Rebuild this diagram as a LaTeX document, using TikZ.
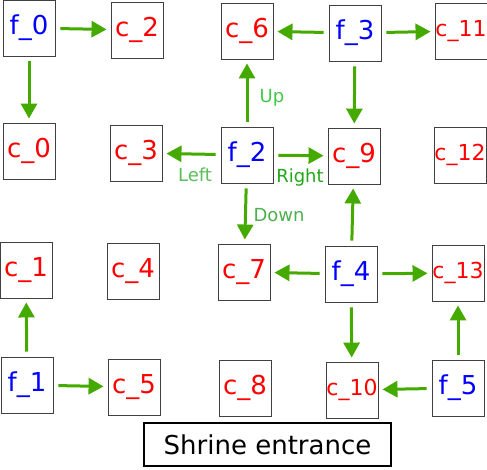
\documentclass[tikz,border=0pt]{standalone}
\usepackage{fontspec}
\setmainfont{DejaVu Sans}
\usetikzlibrary{arrows.meta}
\definecolor{movegreen}{HTML}{44AA00}
\definecolor{leftgreen}{HTML}{5ABF5A}
\definecolor{upgreen}{HTML}{44C844}
\definecolor{rightgreen}{HTML}{22A818}
\definecolor{downgreen}{HTML}{4DB04D}

\begin{document}
\begin{tikzpicture}[x = 1pt, y = -1pt]
    \useasboundingbox (0, 0) rectangle (487, 469);
    \tikzset{cell/.style={draw=black!75, line width=0.9pt, minimum width=52pt, minimum height=56pt,
                          inner sep=0pt, text=red, font=\fontsize{26}{30}\selectfont},
             cellwide/.style={cell, font=\fontsize{22}{26}\selectfont},
             field/.style={cell, text=blue},
             move/.style={movegreen, line width=3pt, -{Triangle[length=15pt, width=16pt]},
                          shorten <=5pt, shorten >=4pt},
             movelabel/.style={anchor=base, font=\fontsize{18}{22}\selectfont}}
    % ROW 1
    \node[field] (f0) at (29, 28) {f\_0};
    \node[cell] (c2) at (137, 30) {c\_2};
    \node[cell] (c6) at (247, 31) {c\_6};
    \node[field] (f3) at (355, 33) {f\_3};
    \node[cellwide] (c11) at (461, 31) {c\_11};
    % ROW 2
    \node[cell] (c0) at (29, 151) {c\_0};
    \node[cell] (c3) at (136, 153) {c\_3};
    \node[field] (f2) at (247, 155) {f\_2};
    \node[cell] (c9) at (354, 156) {c\_9};
    \node[cellwide] (c12) at (460, 155) {c\_12};
    % ROW 3
    \node[cell] (c1) at (26, 270) {c\_1};
    \node[cell] (c4) at (133, 271) {c\_4};
    \node[cell] (c7) at (244, 272) {c\_7};
    \node[field] (f4) at (351, 274) {f\_4};
    \node[cellwide] (c13) at (458, 273) {c\_13};
    % ROW 4
    \node[field] (f1) at (27, 385) {f\_1};
    \node[cell] (c5) at (134, 387) {c\_5};
    \node[cell] (c8) at (245, 388) {c\_8};
    \node[cellwide] (c10) at (352, 390) {c\_10};
    \node[field] (f5) at (458, 388) {f\_5};
    % ENTRANCE
    \node[draw, line width=2.5pt, minimum width=247pt, minimum height=43pt, inner sep=0pt,
          font=\fontsize{26}{30}\selectfont] (shrine) at (267.5, 444.5) {Shrine entrance\hspace{8pt}};
    % MOVES
    \foreach \from/\to in {f0/c2, f0/c0, f2/c3, f2/c6, f2/c9, f2/c7, f3/c6, f3/c11, f3/c9,
                           f4/c9, f4/c7, f4/c13, f4/c10, f5/c13, f5/c10, f1/c1, f1/c5}
        \draw[move] (\from) -- (\to);
    % DIRECTION LABELS
    \node[movelabel, leftgreen] (left) at (195, 181) {Left};
    \node[movelabel, upgreen] (up) at (272, 102) {Up};
    \node[movelabel, rightgreen] (right) at (300, 182) {Right};
    \node[movelabel, downgreen] (down) at (279, 221) {Down};
\end{tikzpicture}
\end{document}
